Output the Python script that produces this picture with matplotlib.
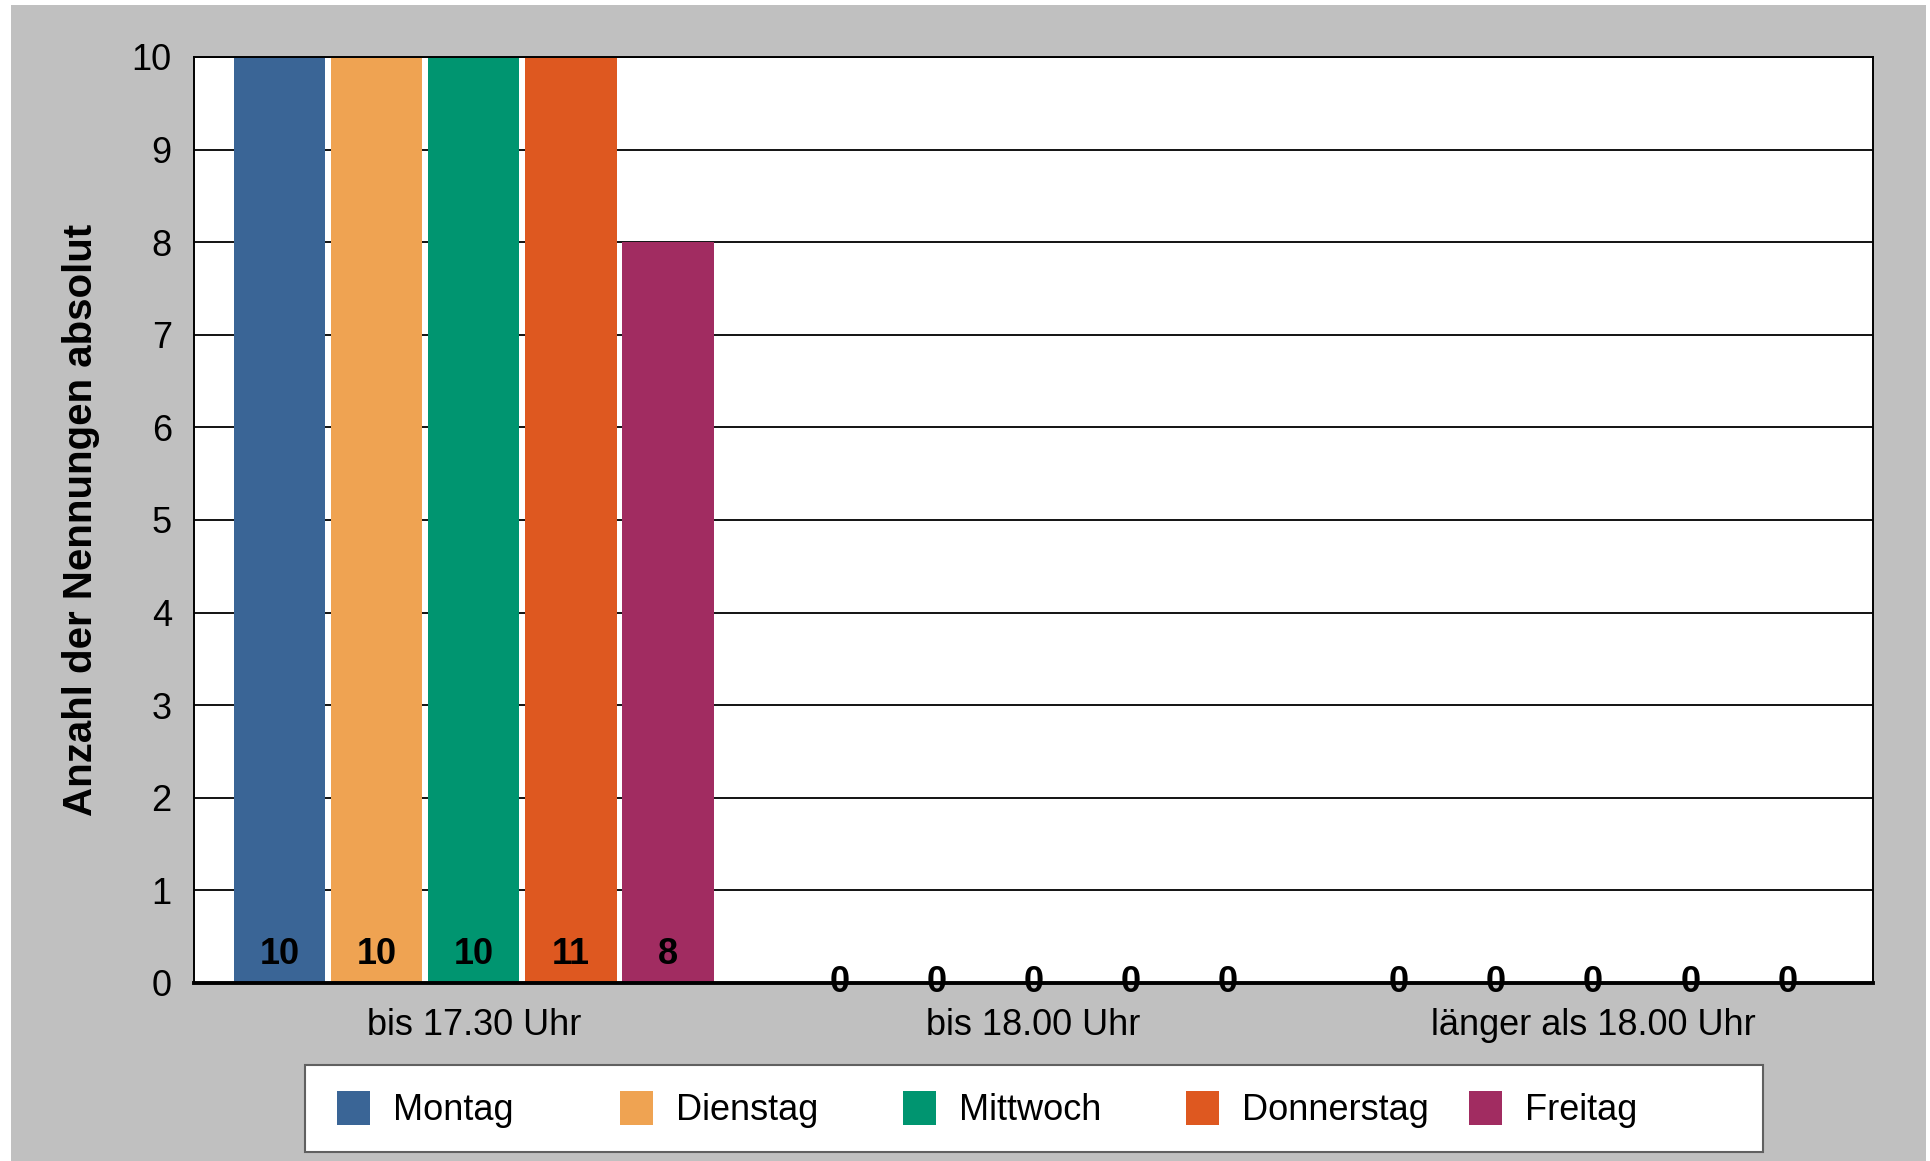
import matplotlib
matplotlib.use('Agg')
import matplotlib.pyplot as plt
from matplotlib.patches import Rectangle
import numpy as np

plt.rcParams['font.family'] = ['Liberation Sans', 'DejaVu Sans']

categories = ['bis 17.30 Uhr', 'bis 18.00 Uhr', 'länger als 18.00 Uhr']
days = ['Montag', 'Dienstag', 'Mittwoch', 'Donnerstag', 'Freitag']
montag = [10, 0, 0]
dienstag = [10, 0, 0]
mittwoch = [10, 0, 0]
donnerstag = [11, 0, 0]
freitag = [8, 0, 0]
colors = ['#3A6596', '#EFA352', '#009570', '#DE5820', '#A12C61']
series = [montag, dienstag, mittwoch, donnerstag, freitag]

fig = plt.figure(figsize=(19.3, 11.61), dpi=100)
fig.patch.set_facecolor('white')
# grauer Hintergrund mit schmalem weissen Rand oben/links/rechts
fig.patches.append(Rectangle((11 / 1930, 0), (1926 - 11) / 1930, 1 - 5 / 1161,
                             transform=fig.transFigure, facecolor='#C0C0C0',
                             edgecolor='none', zorder=-10))

ax = fig.add_axes([194 / 1930, 1 - 983 / 1161, (1873 - 194) / 1930, (983 - 57) / 1161])
ax.set_facecolor('white')

x = np.arange(len(categories))
step = 0.1735
width = 0.163
for i, (vals, c) in enumerate(zip(series, colors)):
    pos = x + (i - 2) * step
    ax.bar(pos, vals, width, color=c, zorder=2)
    for p, v in zip(pos, vals):
        if v > 0:
            ax.text(p, 0.31, str(v), ha='center', va='center', fontsize=26,
                    fontweight='bold', zorder=4)
        else:
            ax.text(p, 0, str(v), ha='center', va='center', fontsize=26,
                    fontweight='bold', zorder=6, clip_on=False)

ax.set_xlim(-0.5, 2.5)
ax.set_ylim(0, 10)
ax.set_yticks(range(0, 11))
ax.yaxis.grid(True, color='black', linewidth=1.3, zorder=1)
ax.set_axisbelow(True)
ax.tick_params(axis='y', length=0, pad=16, labelsize=26)
ax.set_xticks(x)
ax.set_xticklabels(categories)
ax.tick_params(axis='x', length=0, pad=18, labelsize=26)

for s in ['top', 'right', 'left']:
    ax.spines[s].set_linewidth(1.4)
    ax.spines[s].set_color('black')
ax.spines['bottom'].set_linewidth(2.8)
ax.spines['bottom'].set_zorder(5)

fig.text(81 / 1930, 1 - 520 / 1161, 'Anzahl der Nennungen absolut', rotation=90,
         ha='center', va='center', fontsize=29, fontweight='bold')

# Legende
lx0, lx1, ly0, ly1 = 305, 1763, 1065, 1152
fig.patches.append(Rectangle((lx0 / 1930, 1 - ly1 / 1161), (lx1 - lx0) / 1930,
                             (ly1 - ly0) / 1161, transform=fig.transFigure,
                             facecolor='white', edgecolor='#606060', linewidth=1.5,
                             zorder=1))
for i, (d, c) in enumerate(zip(days, colors)):
    sx = 337 + i * 283
    fig.patches.append(Rectangle((sx / 1930, 1 - 1125 / 1161), 33 / 1930, 34 / 1161,
                                 transform=fig.transFigure, facecolor=c,
                                 edgecolor='none', zorder=2))
    fig.text((sx + 56) / 1930, 1 - 1110 / 1161, d, ha='left', va='center',
             fontsize=26, zorder=3)

fig.savefig('out.png', dpi=100)
